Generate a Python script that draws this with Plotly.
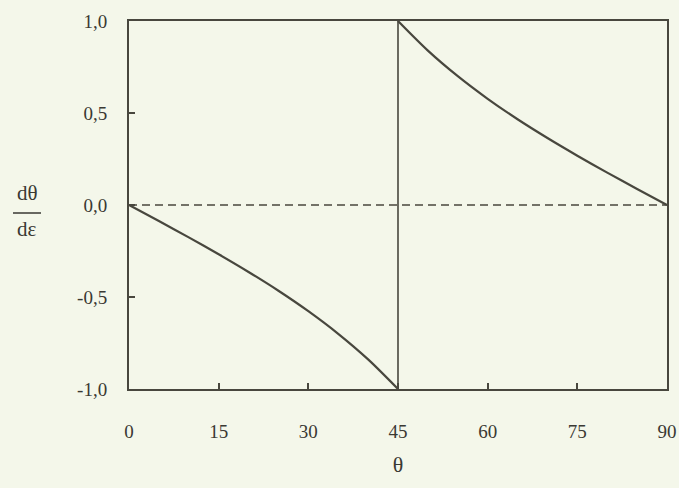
import plotly.graph_objects as go

# Rotation rate dθ/dε against the angle θ (degrees)
theta_left = [0, 5, 10, 15, 20, 25, 30, 35, 40, 45]
rate_left = [0.0, -0.087, -0.176, -0.268, -0.364, -0.466, -0.577, -0.700, -0.839, -1.0]

theta_right = [45, 50, 55, 60, 65, 70, 75, 80, 85, 90]
rate_right = [1.0, 0.839, 0.700, 0.577, 0.466, 0.364, 0.268, 0.176, 0.087, 0.0]

# jump at θ = 45
theta_jump = [45, 45]
rate_jump = [-1.0, 1.0]

# reference level
theta_zero = [0, 90]
rate_zero = [0.0, 0.0]

x_ticks = [0, 15, 30, 45, 60, 75, 90]
y_ticks = [-1.0, -0.5, 0.0, 0.5, 1.0]
y_tick_text = ["-1,0", "-0,5", "0,0", "0,5", "1,0"]

INK = "#48473e"
TEXT = "#3a3933"
PAPER = "#f4f7ea"
SERIF = "Liberation Serif, Times New Roman, serif"

W, H = 679, 488
ML, MR, MT, MB = 129, 12, 21, 99

fig = go.Figure()
fig.add_trace(go.Scatter(x=theta_zero, y=rate_zero, mode="lines",
                         line=dict(color=INK, width=1.6, dash="8px,5px"),
                         cliponaxis=False, hoverinfo="skip"))
fig.add_trace(go.Scatter(x=theta_left, y=rate_left, mode="lines",
                         line=dict(color=INK, width=2.2, shape="spline", smoothing=0.8),
                         cliponaxis=False))
fig.add_trace(go.Scatter(x=theta_jump, y=rate_jump, mode="lines",
                         line=dict(color=INK, width=1.6),
                         cliponaxis=False))
fig.add_trace(go.Scatter(x=theta_right, y=rate_right, mode="lines",
                         line=dict(color=INK, width=2.2, shape="spline", smoothing=0.8),
                         cliponaxis=False))

fig.update_layout(
    width=W, height=H,
    margin=dict(l=ML, r=MR, t=MT, b=MB, autoexpand=False),
    paper_bgcolor=PAPER, plot_bgcolor=PAPER,
    showlegend=False,
    font=dict(family=SERIF, size=19, color=TEXT),
)
fig.update_xaxes(
    range=[0, 90], tickvals=x_ticks, ticktext=[str(v) for v in x_ticks],
    showgrid=False, zeroline=False, automargin=False,
    showline=True, mirror=True, linecolor=INK, linewidth=2,
    ticks="inside", ticklen=6, tickwidth=1.5, tickcolor=INK,
    ticklabelstandoff=24,
    title=dict(text="θ", font=dict(family=SERIF, size=22, color=TEXT), standoff=16),
)
fig.update_yaxes(
    range=[-1, 1], tickvals=y_ticks, ticktext=y_tick_text,
    showgrid=False, zeroline=False, automargin=False,
    showline=True, mirror=True, linecolor=INK, linewidth=2,
    ticks="inside", ticklen=6, tickwidth=1.5, tickcolor=INK,
    ticklabelstandoff=16,
)

# stacked fraction label dθ / dε, placed in pixel units
pw, ph = W - ML - MR, H - MT - MB


def px(x):
    return (x - ML) / pw


def py(y):
    return 1 - (y - MT) / ph


for text, yy in (("dθ", 193), ("dε", 229)):
    fig.add_annotation(x=px(27), y=py(yy), xref="paper", yref="paper", text=text,
                       xanchor="center", yanchor="middle", showarrow=False,
                       font=dict(family=SERIF, size=21, color=TEXT))
fig.add_shape(type="line", xref="paper", yref="paper",
              x0=px(13), x1=px(41), y0=py(213), y1=py(213),
              line=dict(color=TEXT, width=1.5))

fig.write_html("out.html")
